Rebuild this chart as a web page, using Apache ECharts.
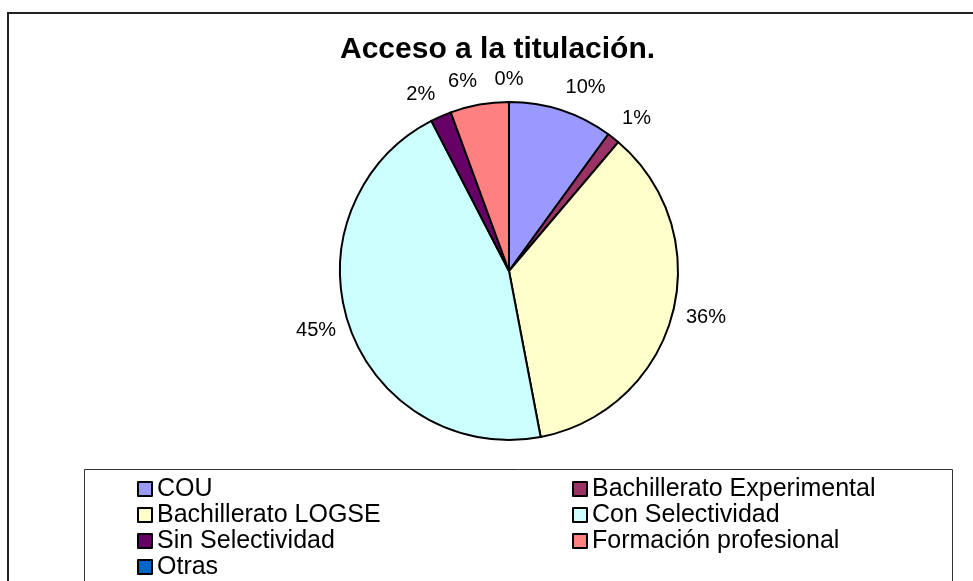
<!DOCTYPE html>
<html>
<head>
<meta charset="utf-8">
<title>Acceso a la titulación</title>
<script src="https://cdn.jsdelivr.net/npm/echarts@6.0.0/dist/echarts.min.js"></script>
<style>
    html, body { margin: 0; padding: 0; background: #fff; }
    #acceso_chart { width: 973px; height: 581px; }
</style>
</head>
<body>
<div id="acceso_chart"></div>
<script>
// datos (porcentajes)
var categorias = ['COU', 'Bachillerato Experimental', 'Bachillerato LOGSE', 'Con Selectividad',
    'Sin Selectividad', 'Formación profesional', 'Otras'];
var valores = [10.0, 1.2, 35.8, 45.4, 2.0, 5.6, 0];
var colores = ['#9999FF', '#993366', '#FFFFCC', '#CCFFFF', '#660066', '#FF8080', '#0066CC'];

// columnas de la leyenda
var leyenda_col1 = ['COU', 'Bachillerato LOGSE', 'Sin Selectividad', 'Otras'];
var leyenda_col2 = ['Bachillerato Experimental', 'Con Selectividad', 'Formación profesional'];

var fuente = '"Liberation Sans", Arial, sans-serif';

var chart = echarts.init(document.getElementById('acceso_chart'));

function leyenda(datos, left) {
    return {
        orient: 'vertical',
        left: left,
        top: 476,
        padding: 0,
        itemGap: 0,
        itemWidth: 14,
        itemHeight: 14,
        icon: 'rect',
        selectedMode: false,
        itemStyle: { borderColor: '#000', borderWidth: 2 },
        textStyle: { fontFamily: fuente, fontSize: 25, color: '#000', lineHeight: 26 },
        data: datos
    };
}

var option = {
    animation: false,
    backgroundColor: '#fff',
    title: {
        text: 'Acceso a la titulación.',
        left: 340,
        top: 35,
        padding: 0,
        textStyle: { fontFamily: fuente, fontSize: 30, fontWeight: 'bold', color: '#000' }
    },
    legend: [leyenda(leyenda_col1, 137), leyenda(leyenda_col2, 572)],
    graphic: [
        {
            type: 'rect',
            shape: { x: 8, y: 13, width: 1000, height: 1000 },
            style: { fill: 'none', stroke: '#222', lineWidth: 2 }
        },
        {
            type: 'rect',
            shape: { x: 84.5, y: 469.5, width: 868, height: 300 },
            style: { fill: 'none', stroke: '#333', lineWidth: 1 }
        }
    ],
    series: [
        {
            name: 'Acceso a la titulación',
            type: 'pie',
            center: [509, 271],
            radius: 169,
            startAngle: 90,
            clockwise: true,
            avoidLabelOverlap: false,
            emphasis: { disabled: true },
            itemStyle: { borderColor: '#000', borderWidth: 2 },
            label: {
                show: true,
                position: 'outside',
                distanceToLabelLine: 0,
                fontFamily: fuente,
                fontSize: 20,
                color: '#000',
                formatter: function (p) {
                    return Math.round(p.percent) + '%';
                }
            },
            labelLine: { show: false, length: 14, length2: 0 },
            labelLayout: function (p) {
                var r = p.labelRect;
                var res = {};
                if (r.y + r.height / 2 < 200) res.dy = -9;
                if (valores[p.dataIndex] === 0) res.align = 'center';
                return res;
            },
            data: (function () {
                var res = [];
                for (var i = 0; i < categorias.length; i++) {
                    res.push({
                        name: categorias[i],
                        value: valores[i],
                        itemStyle: { color: colores[i] }
                    });
                }
                return res;
            })()
        }
    ]
};
chart.setOption(option);
</script>
</body>
</html>
